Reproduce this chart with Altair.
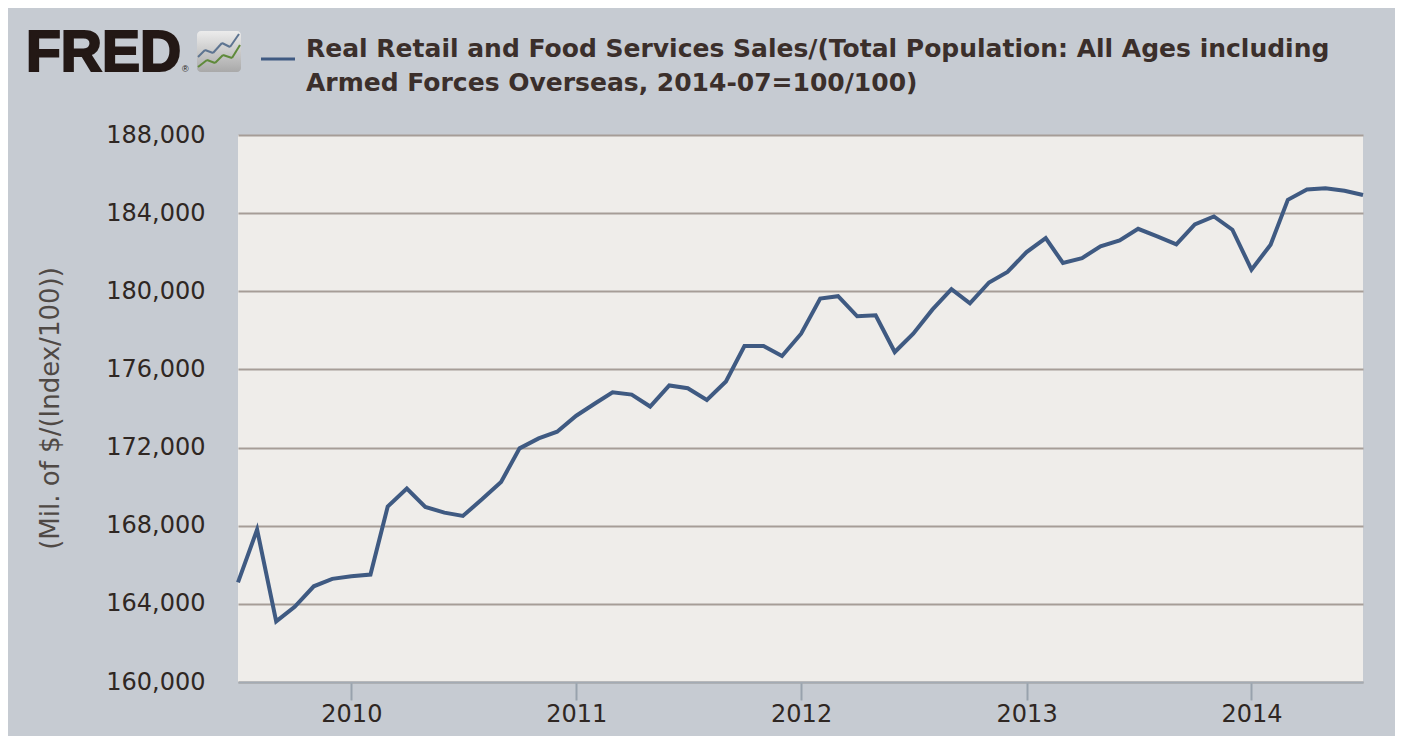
import pandas as pd
import altair as alt

# monthly values, Jul 2009 .. Jul 2014
months = pd.date_range("2009-07-01", periods=61, freq="MS").strftime("%Y-%m-%d").tolist()
sales = [
    165100, 167800, 163100, 163850, 164900, 165280,
    165410, 165500, 168980, 169900, 168960, 168670,
    168500, 169350, 170240, 171960, 172470, 172810,
    173630, 174270, 174830, 174710, 174100, 175180,
    175040, 174440, 175380, 177200, 177200, 176690,
    177830, 179630, 179750, 178720, 178770, 176890,
    177830, 179060, 180110, 179380, 180450, 180990,
    182010, 182720, 181450, 181700, 182300, 182600,
    183200, 182810, 182400, 183420, 183830, 183150,
    181110, 182380, 184680, 185210, 185270, 185150,
    184930,
]
y_ticks = [160000, 164000, 168000, 172000, 176000, 180000, 184000, 188000]
title_lines = [
    "Real Retail and Food Services Sales/(Total Population: All Ages including",
    "Armed Forces Overseas, 2014-07=100/100)",
]

df = pd.DataFrame({"date": months, "value": sales})
dummy = pd.DataFrame({"a": [0]})

LINE = "#3f5a82"
TEXT = "#2f2723"

line = alt.Chart(df).mark_line(color=LINE, strokeWidth=4).encode(
    x=alt.X("date:T")
    .scale(type="utc",
           domain=[alt.DateTime(year=2009, month=7, date=1, utc=True),
                   alt.DateTime(year=2014, month=7, date=1, utc=True)])
    .axis(format="%Y", tickCount="year", labelFontSize=24, labelPadding=2,
          tickSize=18, tickColor="#98a2ad", tickWidth=2,
          domainColor="#a3abb4", domainWidth=2, grid=False, title=""),
    y=alt.Y("value:Q")
    .scale(domain=[160000, 188000], nice=False, zero=False)
    .axis(values=y_ticks, format=",.0f", labelFontSize=24, labelPadding=33,
          ticks=False, domain=False, gridColor="#a69d97", gridWidth=2,
          title="(Mil. of $/(Index/100))", titleFontSize=26,
          titleFontWeight="normal", titleColor="#4f4945",
          titleX=-188, titleY=273, titleBaseline="middle"),
)

# header: FRED logo, legend swatch, series title
logo = alt.Chart(dummy).mark_text(
    text="FRED", font="Liberation Sans", fontSize=57, fontWeight=900,
    color="#231815", stroke="#231815", strokeWidth=2.2,
    align="left", baseline="alphabetic"
).encode(x=alt.value(-212), y=alt.value(-64))

reg = alt.Chart(dummy).mark_text(
    text="®", font="Liberation Sans", fontSize=9, color="#231815",
    align="left", baseline="alphabetic"
).encode(x=alt.value(-56), y=alt.value(-63))

icon = alt.Chart(dummy).mark_rect(
    cornerRadius=4,
    color=alt.Gradient(gradient="linear", x1=0, y1=0, x2=0, y2=1,
                       stops=[alt.GradientStop(offset=0, color="#ececec"),
                              alt.GradientStop(offset=1, color="#a9a9a9")]),
).encode(x=alt.value(-41), x2=alt.value(3), y=alt.value(-104), y2=alt.value(-63))

blue_pts = [(-40, -78), (-33, -85), (-25, -82), (-16, -92), (-8, -88), (1, -101)]
green_pts = [(-40, -68), (-31, -75), (-23, -72), (-15, -80), (-6, -77), (2, -90)]


def zigzag(pts, colour):
    segs = []
    for (xa, ya), (xb, yb) in zip(pts[:-1], pts[1:]):
        segs.append(alt.Chart(dummy).mark_rule(color=colour, strokeWidth=2).encode(
            x=alt.value(xa), y=alt.value(ya), x2=alt.value(xb), y2=alt.value(yb)))
    return segs


swatch = alt.Chart(dummy).mark_rule(color=LINE, strokeWidth=3).encode(
    x=alt.value(23), x2=alt.value(57), y=alt.value(-76), y2=alt.value(-76))

titles = [
    alt.Chart(dummy).mark_text(
        text=t, font="DejaVu Sans", fontSize=25, fontWeight="bold",
        color="#3b2f2b", align="left", baseline="alphabetic"
    ).encode(x=alt.value(68), y=alt.value(yy))
    for t, yy in zip(title_lines, [-78, -44])
]

chart = alt.layer(
    line, logo, reg, icon, *zigzag(blue_pts, "#5d7491"), *zigzag(green_pts, "#5f8a3a"),
    swatch, *titles
).properties(
    width=1125, height=547,
    background="#c6cbd2",
    autosize=alt.AutoSizeParams(type="none"),
    padding={"left": 230, "top": 127, "right": 32, "bottom": 54},
).configure_view(
    fill="#efedea", strokeWidth=0
).configure_axis(
    labelFont="DejaVu Sans", titleFont="DejaVu Sans", labelColor=TEXT
)

chart.save("out.html", embed_options={"renderer": "svg", "actions": False})
